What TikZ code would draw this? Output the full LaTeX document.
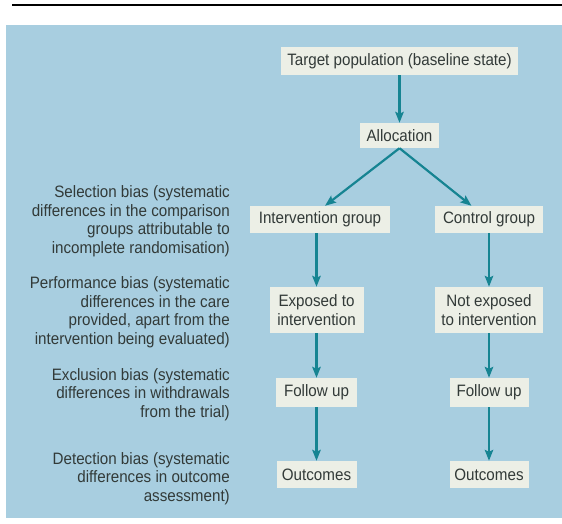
\documentclass[tikz,border=0pt]{standalone}
\usepackage{fontspec}
\setmainfont{Liberation Sans}[FakeStretch=0.92]
\usetikzlibrary{arrows.meta}
\definecolor{panelblue}{RGB}{168,206,224}
\definecolor{boxfill}{RGB}{236,239,230}
\definecolor{arrowteal}{RGB}{22,132,146}
\definecolor{inkgray}{RGB}{50,58,56}

\begin{document}
\begin{tikzpicture}[x=1pt,y=-1pt]
\tikzstyle{every node}=[font=\fontsize{16.5}{18.5}\selectfont, text=inkgray]
\tikzstyle{box}=[fill=boxfill, inner sep=0pt, minimum height=27pt, align=center]
\tikzstyle{bias}=[anchor=east, align=right, inner sep=0pt]
\tikzstyle{link}=[draw=arrowteal, line width=2.2pt, -{Stealth[length=11pt,width=8.5pt,inset=2pt]}]
\useasboundingbox (0,0) rectangle (562,523);
\fill[panelblue] (6,25) rectangle (562,518);
\draw[line width=2.5pt] (12,5) -- (562,5);
% flow boxes
\draw (399.5,61) node (target) [box,minimum width=237pt,minimum height=28pt] {Target population (baseline state)};
\draw (399.5,135.5) node (alloc) [box,minimum width=79pt,minimum height=25pt] {Allocation};
\draw (320,219.5) node (intgrp) [box,minimum width=140pt] {Intervention group};
\draw (489,219.5) node (ctlgrp) [box,minimum width=108pt] {Control group};
\draw (316.5,310) node (intexp) [box,minimum width=94pt,minimum height=46pt] {Exposed to\\intervention};
\draw (489,310) node (ctlexp) [box,minimum width=108pt,minimum height=46pt] {Not exposed\\to intervention};
\draw (316.5,392.5) node (intfol) [box,minimum width=81pt,minimum height=29pt] {Follow up};
\draw (489,392.5) node (ctlfol) [box,minimum width=79pt,minimum height=29pt] {Follow up};
\draw (316.5,474.5) node (intout) [box,minimum width=80pt] {Outcomes};
\draw (489,474.5) node (ctlout) [box,minimum width=79pt] {Outcomes};
% bias labels
\draw (230,221) node (selbias) [bias] {Selection bias (systematic\\differences in the comparison\\groups attributable to\\incomplete randomisation)};
\draw (230,312) node (perfbias) [bias] {Performance bias (systematic\\differences in the care\\provided, apart from the\\intervention being evaluated)};
\draw (230,394.5) node (exclbias) [bias] {Exclusion bias (systematic\\differences in withdrawals\\from the trial)};
\draw (230,478.5) node (detbias) [bias] {Detection bias (systematic\\differences in outcome\\assessment)};
% arrows
\draw[link] (target) -- (alloc);
\draw[link] (alloc.south) -- (intgrp.70);
\draw[link] (alloc.south) -- (ctlgrp.142);
\draw[link] (intgrp.south -| intexp) -- (intexp.north);
\draw[link] (ctlgrp) -- (ctlexp);
\draw[link] (intexp) -- (intfol);
\draw[link] (ctlexp) -- (ctlfol);
\draw[link] (intfol) -- (intout);
\draw[link] (ctlfol) -- (ctlout);
\end{tikzpicture}
\end{document}
